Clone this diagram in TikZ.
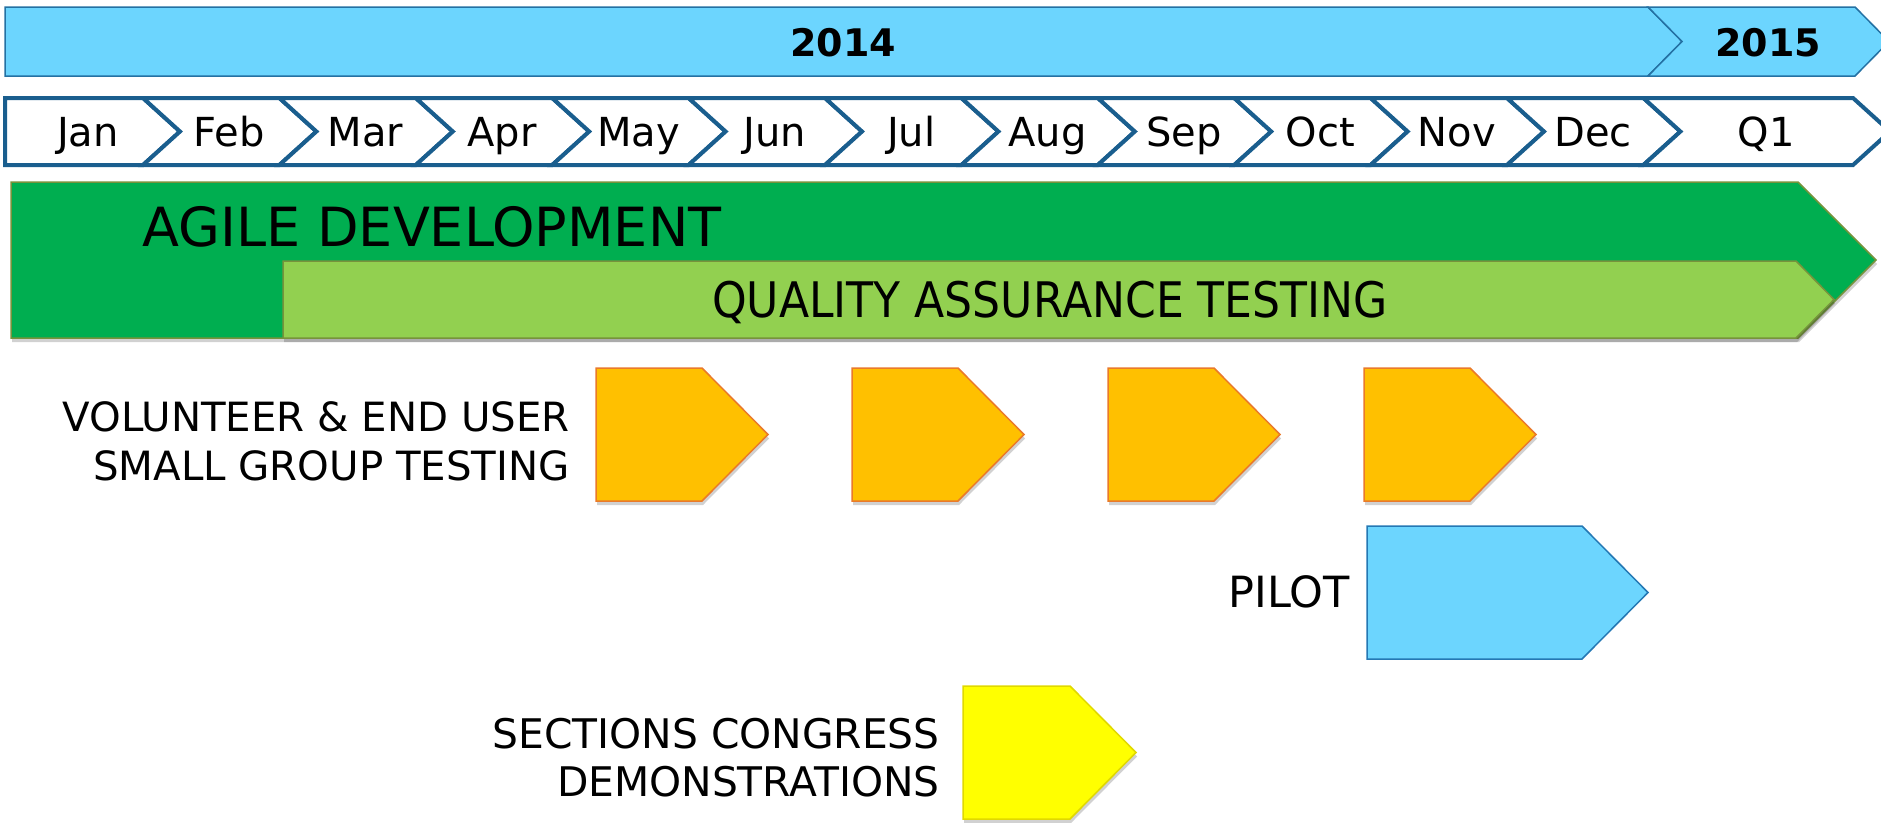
\documentclass[tikz,border=0pt]{standalone}
\usepackage{fontspec}
\setmainfont{DejaVu Sans}
\usepackage{graphicx}
\usetikzlibrary{shadows}
\definecolor{skyfill}{RGB}{108,213,254}
\definecolor{skyline}{RGB}{36,113,163}
\definecolor{monthline}{RGB}{26,94,142}
\definecolor{agile}{RGB}{0,174,80}
\definecolor{qa}{RGB}{146,208,80}
\definecolor{olive}{RGB}{119,147,60}
\definecolor{orangefill}{RGB}{255,192,0}
\definecolor{orangeline}{RGB}{233,122,42}
\definecolor{yellowfill}{RGB}{255,255,0}
\definecolor{yellowline}{RGB}{224,216,0}
\definecolor{pilotline}{RGB}{36,120,180}
\tikzset{
  yearbar/.style={fill=skyfill, draw=skyline, line width=1.5pt, line join=miter},
  monthbox/.style={fill=white, draw=monthline, line width=4pt, line join=miter},
  softshadow/.style={drop shadow={shadow xshift=1pt, shadow yshift=-4pt, opacity=0.18, fill=black}},
  agilebar/.style={fill=agile, draw=olive, line width=1.5pt, softshadow},
  qabar/.style={fill=qa, draw=olive, line width=1.5pt, softshadow},
  testbox/.style={fill=orangefill, draw=orangeline, line width=1.5pt, softshadow},
  pilotbox/.style={fill=skyfill, draw=pilotline, line width=1.5pt},
  demobox/.style={fill=yellowfill, draw=yellowline, line width=1.5pt, softshadow},
  yeartext/.style={anchor=base, inner sep=0pt, font=\fontsize{38}{44}\selectfont\bfseries},
  monthtext/.style={anchor=base, inner sep=0pt, font=\fontsize{40}{48}\selectfont},
  labeltext/.style={anchor=base east, inner sep=0pt, font=\fontsize{40.3}{48}\selectfont},
}
\begin{document}
\begin{tikzpicture}[x=1pt, y=-1pt]
\path[use as bounding box] (0,0) rectangle (1881,822);
\clip (0,0) rectangle (1881,822);
% year bar
\path[yearbar] (5,7) -- (1648,7) -- (1682,41.5) -- (1648,76) -- (5,76) -- cycle;
\path[yearbar] (1648,7) -- (1855,7) -- (1889,41.5) -- (1855,76) -- (1648,76) -- (1682,41.5) -- cycle;
\node[yeartext] (y2014) at (843,56.5) {2014};
\node[yeartext] (y2015) at (1768,56.5) {2015};
% months
\path[monthbox] (5,98) -- (143,98) -- (180,131.5) -- (143,165) -- (5,165) -- cycle;
\node[monthtext] (mJan) at (88,146) {Jan};
\foreach \m [count=\i from 1] in {Feb,Mar,Apr,May,Jun,Jul,Aug,Sep,Oct,Nov,Dec}{
  \pgfmathsetmacro{\L}{143+(\i-1)*136.4}
  \pgfmathsetmacro{\R}{\L+136.4}
  \pgfmathsetmacro{\C}{(\L+\R)/2+18}
  \path[monthbox] (\L,98) -- (\R,98) -- (\R+37,131.5) -- (\R,165) -- (\L,165) -- (\L+37,131.5) -- cycle;
  \node[monthtext] (m\m) at (\C,146) {\m};
}
\path[monthbox] (1643.4,98) -- (1853,98) -- (1890,131.5) -- (1853,165) -- (1643.4,165) -- (1680.4,131.5) -- cycle;
\node[monthtext] (mQ1) at (1766,146) {Q1};
% development bars
\path[agilebar] (11,182) -- (1798,182) -- (1876,260) -- (1798,338) -- (11,338) -- cycle;
\node[anchor=base west, inner sep=0pt, font=\fontsize{54}{60}\selectfont] (agiletext) at (142,246) {AGILE DEVELOPMENT};
\path[qabar] (283,261) -- (1796,261) -- (1834,299.5) -- (1796,338) -- (283,338) -- cycle;
\node[anchor=base, inner sep=0pt, font=\fontsize{49}{56}\selectfont] (qatext) at (1050,317) {\scalebox{0.9}[1]{QUALITY ASSURANCE TESTING}};
% small group testing
\foreach \x [count=\k] in {596,852,1108,1364}{
  \path[testbox] (\x,368) -- (\x+106,368) -- (\x+172,434.5) -- (\x+106,501) -- (\x,501) -- cycle;
}
\node[labeltext] (vol1) at (570,431) {VOLUNTEER \& END USER};
\node[labeltext] (vol2) at (570,480) {SMALL GROUP TESTING};
% pilot
\path[pilotbox] (1367,526) -- (1582,526) -- (1648,592.5) -- (1582,659) -- (1367,659) -- cycle;
\node[labeltext, font=\fontsize{43}{48}\selectfont] (pilot) at (1350,607.5) {PILOT};
% demonstrations
\path[demobox] (963,686) -- (1070,686) -- (1136,752.5) -- (1070,819) -- (963,819) -- cycle;
\node[labeltext, font=\fontsize{40.8}{48}\selectfont] (sec1) at (940,748) {SECTIONS CONGRESS};
\node[labeltext, font=\fontsize{40.8}{48}\selectfont] (sec2) at (940,796) {DEMONSTRATIONS};
\end{tikzpicture}
\end{document}
